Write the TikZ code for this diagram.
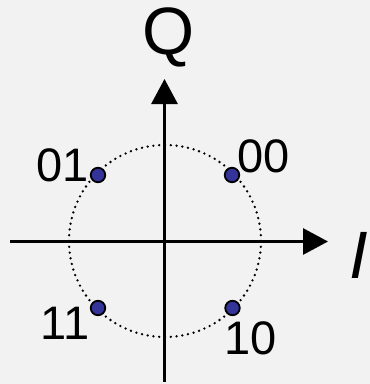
\documentclass[tikz,border=0pt]{standalone}
\usepackage{fontspec}
\setmainfont{Liberation Sans}
\usetikzlibrary{arrows.meta}
\definecolor{bgc}{HTML}{F2F2F2}
\definecolor{dotc}{HTML}{333399}
\begin{document}
\begin{tikzpicture}[x=1pt,y=-1pt,
  axis/.style={line width=3pt,-{Triangle[length=25pt,width=26pt]}},
  pt/.style={circle,draw=black,line width=1.8pt,fill=dotc,minimum size=14.5pt,inner sep=0pt},
  lbl/.style={inner sep=0pt,font=\fontsize{47}{50}\selectfont},
  axlbl/.style={inner sep=0pt,anchor=base,font=\fontsize{67}{70}\selectfont}]
\fill[bgc] (0,0) rectangle (370,384);
\useasboundingbox (0,0) rectangle (370,384);
\coordinate (xl) at (10,241.5);
\coordinate (xr) at (328,241.5);
\coordinate (yb) at (164.5,382);
\coordinate (yt) at (164.5,79);
\coordinate (c) at (165,241);
\draw[line width=2.6pt,line cap=round,dash pattern=on 0pt off 5.8pt] (c) circle[radius=96];
\draw[axis] (xl) -- (xr);
\draw[axis] (yb) -- (yt);
\node[pt] (p00) at (232,175) {};
\node[pt] (p01) at (98,175) {};
\node[pt] (p11) at (98,308) {};
\node[pt] (p10) at (232.5,308) {};
\node[lbl] (l01) at (63,165.5) {01};
\node[lbl] (l00) at (264,156.5) {00};
\node[lbl] (l11) at (65,323.5) {11};
\node[lbl] (l10) at (251,338) {10};
\node[axlbl] (q) at (169,54) {Q};
\node[axlbl] (i) at (359,278) {\itshape I};
\end{tikzpicture}
\end{document}
